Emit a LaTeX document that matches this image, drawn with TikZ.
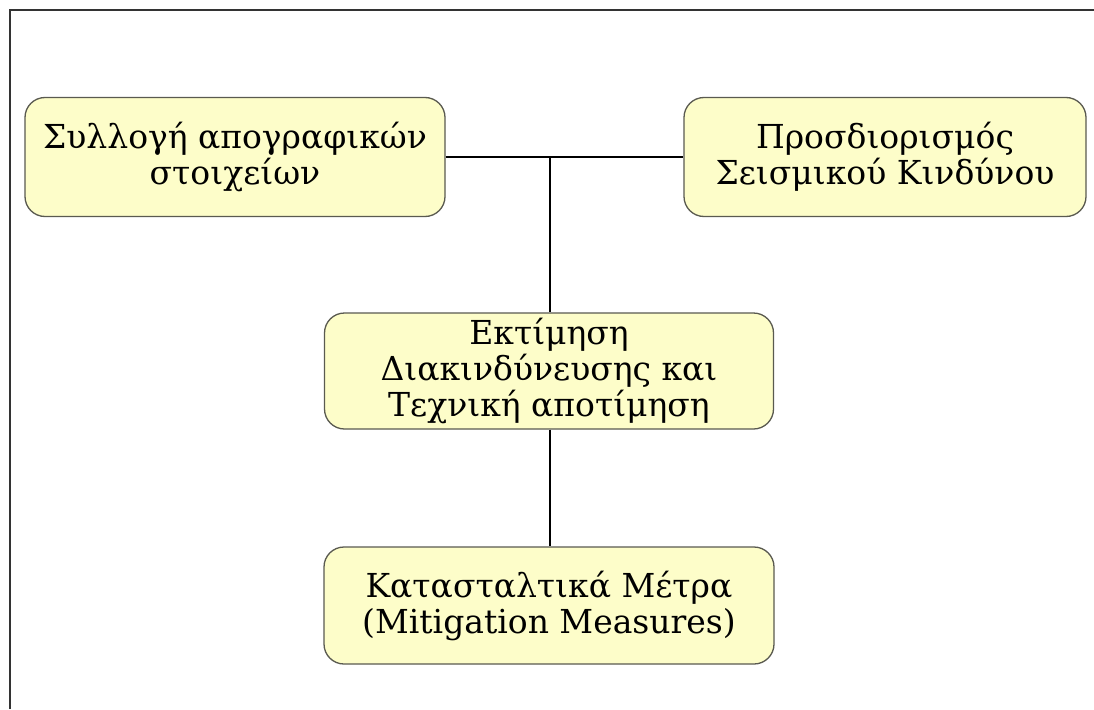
\documentclass[tikz,border=0pt]{standalone}
\usepackage{fontspec}
\setmainfont{DejaVu Serif}
\definecolor{boxfill}{HTML}{FDFDC9}
\definecolor{boxline}{HTML}{5A5A50}
\definecolor{frameline}{HTML}{333333}
\begin{document}
\begin{tikzpicture}[x=1pt,y=-1pt,
  stagebox/.style={draw=boxline,line width=1.3pt,fill=boxfill,rounded corners=20pt,
    align=center,font=\fontsize{33}{36}\selectfont,inner sep=0pt},
  link/.style={draw=black,line width=1.2pt}]
\useasboundingbox (0,0) rectangle (1094,709);
\fill[white] (0,0) rectangle (1094,709);
\draw[frameline,line width=2pt] (9.5,709) -- (9.5,10) -- (1094,10);
\node[stagebox,minimum width=420pt,minimum height=119pt] (a) at (235,157) {Συλλογή απογραφικών\\στοιχείων};
\node[stagebox,minimum width=402pt,minimum height=119pt] (b) at (885,157) {Προσδιορισμός\\Σεισμικού Κινδύνου};
\node[stagebox,minimum width=449pt,minimum height=116pt] (c) at (549,371) {Εκτίμηση\\Διακινδύνευσης και\\Τεχνική αποτίμηση};
\node[stagebox,minimum width=450pt,minimum height=117pt] (d) at (549,605.5) {Κατασταλτικά Μέτρα\\(Mitigation Measures)};
\coordinate (j) at (550,157);
\draw[link] (a.east) -- (b.west);
\draw[link] (j) -- (j |- c.north);
\draw[link] (c.south -| j) -- (j |- d.north);
\end{tikzpicture}
\end{document}
